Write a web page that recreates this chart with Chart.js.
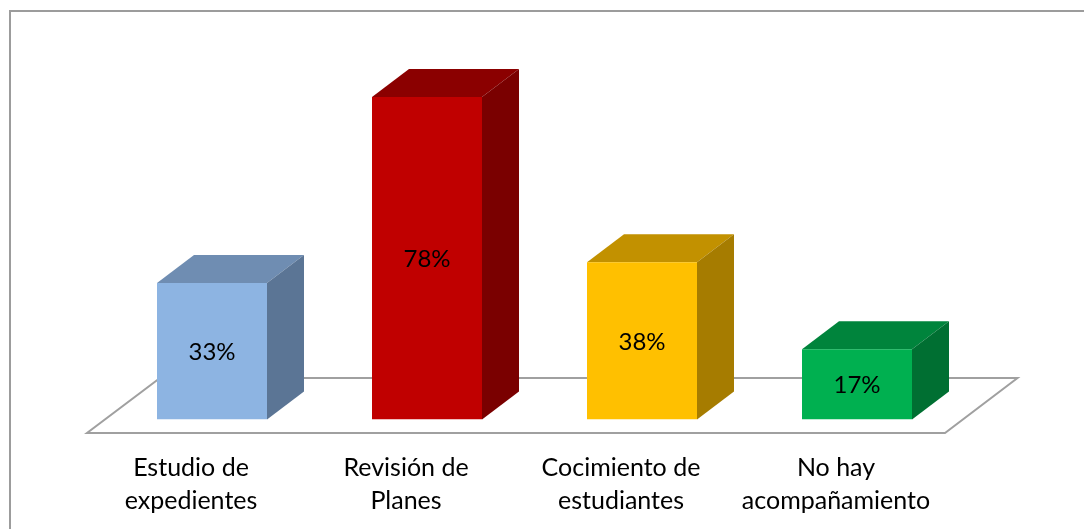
<!DOCTYPE html>
<html>
<head>
<meta charset="utf-8">
<style>
html,body{margin:0;padding:0;background:#fff;overflow:hidden}
#wrap{position:absolute;left:0;top:0;width:1084px;height:529px}
</style>
<script src="https://cdn.jsdelivr.net/npm/chart.js@4"></script>
</head>
<body>
<div id="wrap"><canvas id="c" width="1084" height="529"></canvas></div>
<script>
const categories = [["Estudio de","expedientes"],["Revisión de","Planes"],["Cocimiento de","estudiantes"],["No hay","acompañamiento"]];
const values = [33,78,38,17];
const valueLabels = ["33%","78%","38%","17%"];
const frontColors = ["#8DB4E2","#C00000","#FFC000","#00B050"];
const topColors = ["#6F8DB2","#8B0000","#C29100","#00843C"];
const sideColors = ["#5B7595","#7A0000","#A67C00","#006F32"];
const depthX = 37, depthY = 28;

const bars3d = {
  id:'bars3d',
  beforeDraw(chart){
    const c = chart.ctx;
    c.save();
    c.strokeStyle='#9C9C9C'; c.lineWidth=2;
    c.beginPath(); c.moveTo(1090,11); c.lineTo(10,11); c.lineTo(10,535); c.stroke();
    c.restore();
  },
  beforeDatasetsDraw(chart){
    const c = chart.ctx, a = chart.chartArea;
    c.save();
    c.strokeStyle='#A0A0A0'; c.lineWidth=2; c.lineJoin='miter';
    c.beginPath();
    c.moveTo(a.left-17.5,a.bottom+13.5);
    c.lineTo(a.right-19.5,a.bottom+13.5);
    c.lineTo(a.right+53,a.bottom-41.5);
    c.lineTo(a.left+55.5,a.bottom-41.5);
    c.closePath(); c.stroke();
    chart.getDatasetMeta(0).data.forEach((b,i)=>{
      const l=b.x-b.width/2, r=b.x+b.width/2, t=b.y, y0=b.base;
      c.fillStyle=topColors[i];
      c.beginPath(); c.moveTo(l,t); c.lineTo(l+depthX,t-depthY); c.lineTo(r+depthX,t-depthY); c.lineTo(r,t); c.closePath(); c.fill();
      c.fillStyle=sideColors[i];
      c.beginPath(); c.moveTo(r,t); c.lineTo(r+depthX,t-depthY); c.lineTo(r+depthX,y0-depthY); c.lineTo(r,y0); c.closePath(); c.fill();
    });
    c.restore();
  },
  afterDatasetsDraw(chart){
    const c = chart.ctx;
    c.save();
    c.fillStyle='#000'; c.font='24px Lato'; c.textAlign='center'; c.textBaseline='middle';
    chart.getDatasetMeta(0).data.forEach((b,i)=>{
      c.fillText(valueLabels[i], b.x, (b.y+b.base)/2+1);
    });
    c.restore();
  }
};

new Chart(document.getElementById('c'),{
  type:'bar',
  data:{labels:categories,datasets:[{data:values,backgroundColor:frontColors,borderWidth:0,categoryPercentage:1,barPercentage:110/215}]},
  plugins:[bars3d],
  options:{
    responsive:false,animation:false,
    layout:{padding:{left:104.5,right:119.5,top:6,bottom:0}},
    plugins:{legend:{display:false},tooltip:{enabled:false}},
    scales:{
      y:{display:false,min:0,max:100},
      x:{
        grid:{display:false},border:{display:false},
        afterFit(s){s.height=109.5;},
        ticks:{color:'#000',font:{family:'Lato',size:25,lineHeight:1.32},padding:24,labelOffset:-21,autoSkip:false,maxRotation:0,minRotation:0}
      }
    }
  }
});
</script>
</body>
</html>
